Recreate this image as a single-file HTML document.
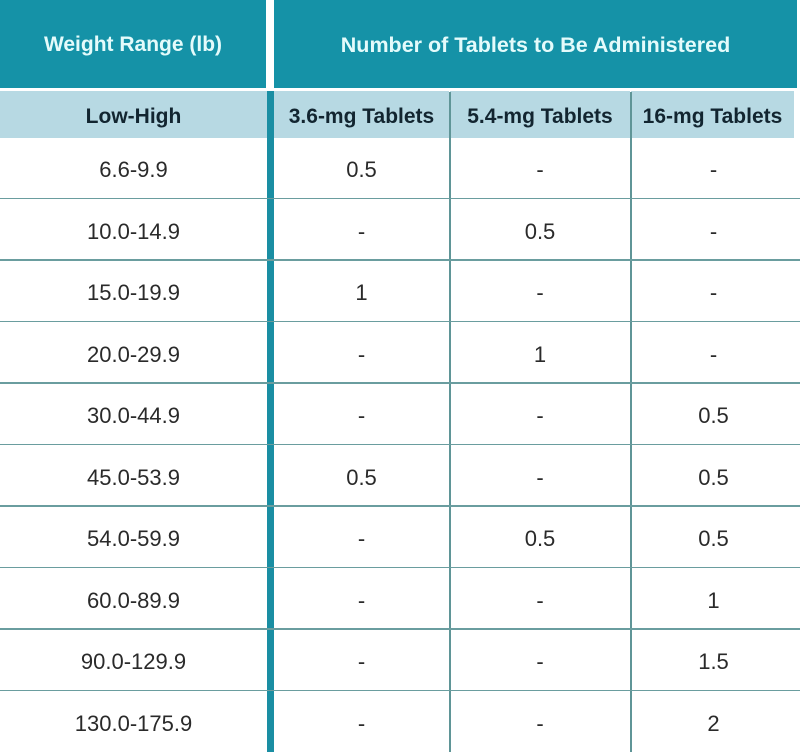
<!DOCTYPE html>
<html><head><meta charset="utf-8"><style>
body{margin:0;width:800px;height:752px;background:#fff;position:relative;overflow:hidden;font-family:"Liberation Sans",sans-serif}
div{position:absolute;box-sizing:border-box}
.hd{background:#1592a7;top:0;height:88px;color:#e4fbfb;font-weight:bold;font-size:21px;display:flex;align-items:center;justify-content:center;padding-top:2px}
.sub{background:#b7d9e3;top:91px;height:47px;color:#122530;font-weight:bold;font-size:21px;display:flex;align-items:center;justify-content:center;padding-top:4px;white-space:nowrap}
.h{height:1.5px;background:#6a9d9f;left:0;width:800px}
.v{width:1.5px;background:#5f9597;top:92px;height:660px}
.c{font-size:22px;color:#2a2a2a;text-align:center;height:30px;line-height:30px}
</style></head><body>
<div class="hd" style="left:0;width:266px">Weight Range (lb)</div>
<div class="hd" style="left:274px;width:523px;font-size:21.5px">Number of Tablets to Be Administered</div>
<div class="sub" style="left:0;width:267px">Low-High</div>
<div class="sub" style="left:274px;width:175px">3.6-mg Tablets</div>
<div class="sub" style="left:450px;width:180px">5.4-mg Tablets</div>
<div class="sub" style="left:631px;width:163px">16-mg Tablets</div>
<div class="v" style="left:449px"></div>
<div class="v" style="left:630px"></div>
<div style="left:267px;top:91px;width:7px;height:661px;background:#1a8ea3"></div>
<div id="rows"></div>
<script>
var d=[["6.6-9.9","0.5","-","-"],["10.0-14.9","-","0.5","-"],["15.0-19.9","1","-","-"],["20.0-29.9","-","1","-"],["30.0-44.9","-","-","0.5"],["45.0-53.9","0.5","-","0.5"],["54.0-59.9","-","0.5","0.5"],["60.0-89.9","-","-","1"],["90.0-129.9","-","-","1.5"],["130.0-175.9","-","-","2"]];
var cx=[[0,267],[274,175],[450,180],[631,165]];var h="";
for(var i=0;i<10;i++){var cy=170+61.5*i;
if(i<9)h+='<div class="h" style="top:'+(197.5+61.5*i)+'px"></div>';
for(var j=0;j<4;j++)h+='<div class="c" style="left:'+cx[j][0]+'px;width:'+cx[j][1]+'px;top:'+(cy-15)+'px">'+d[i][j]+'</div>';}
document.getElementById("rows").outerHTML=h;
</script>
</body></html>
